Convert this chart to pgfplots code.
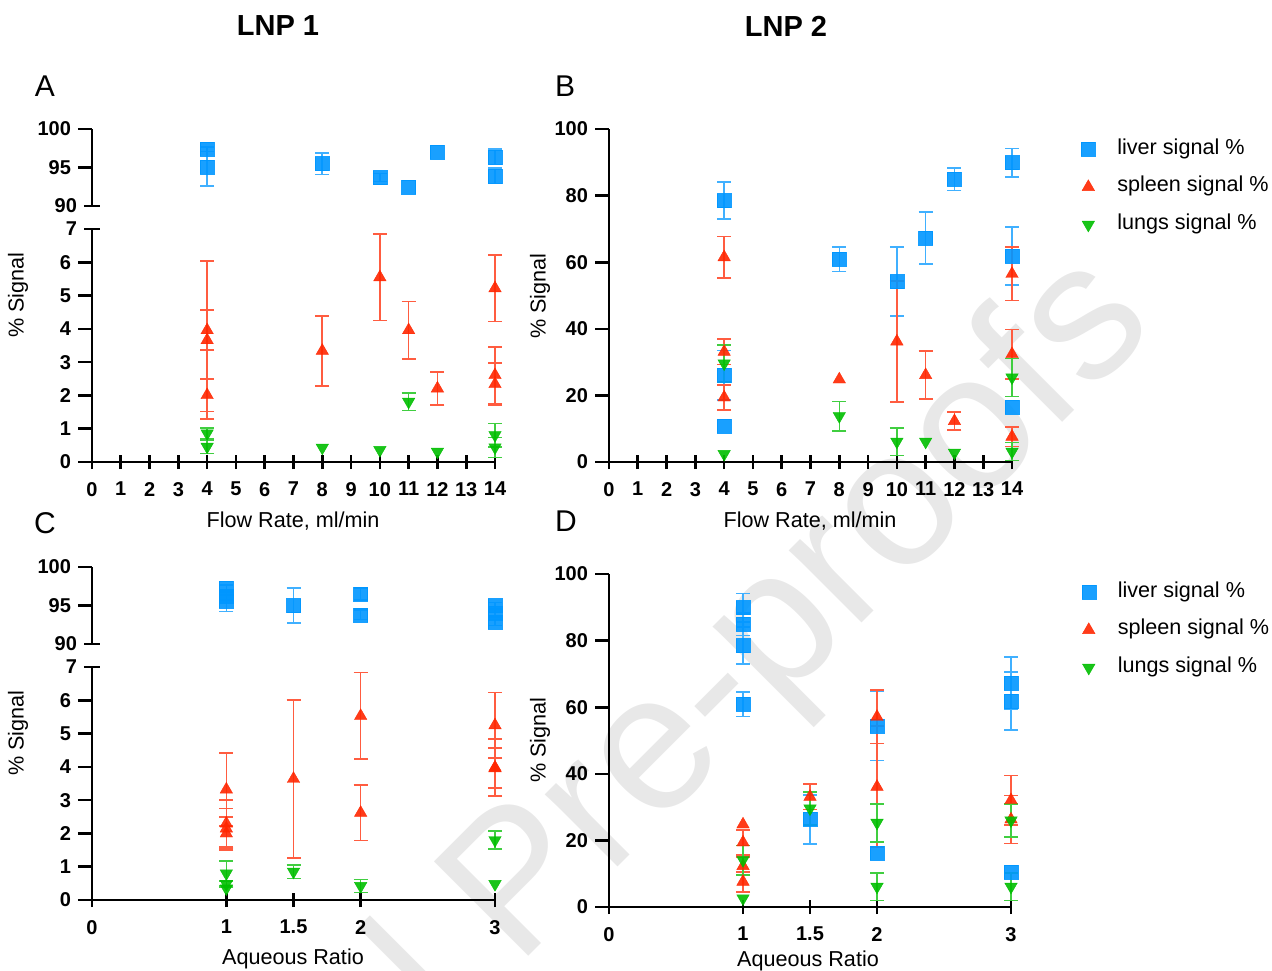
\documentclass[border=0pt]{standalone}
\usepackage{fontspec}
\setmainfont{Liberation Sans}
\usepackage{pgfplots}
\pgfplotsset{compat=1.18}
\definecolor{gpblue}{RGB}{0,150,255}
\definecolor{gpred}{RGB}{255,38,0}
\definecolor{gpgreen}{RGB}{0,190,0}

\pgfplotsset{
  gp/.style={scale only axis, clip=false, anchor=south west, width=201.5pt,
    axis y line=left, axis line style={-, line width=1.3pt},
    every outer y axis line/.append style={-},
    tick style={line width=1.3pt, black}, major tick length=7pt, tick align=outside,
    ticklabel style={font=\bfseries\fontsize{10}{12}\selectfont},
    xticklabel style={yshift=-3pt},
    /pgf/number format/assume math mode=true},
  gpx/.style={axis x line=bottom, x axis line style={-}},
  brk/.style={extra y ticks={#1}, extra y tick style={tick align=center, major tick length=8pt}},
  liver/.style={only marks, mark=square*, mark size=3.5pt, color=gpblue,
    mark options={fill=gpblue, draw=gpblue, line width=0.2pt, opacity=0.9}},
  spleen/.style={only marks, mark=triangle*, mark size=3.6pt, color=gpred,
    mark options={fill=gpred, draw=gpred, line width=0.2pt, opacity=0.9}},
  lungs/.style={only marks, mark=triangle*, mark size=3.6pt, color=gpgreen,
    mark options={rotate=180, fill=gpgreen, draw=gpgreen, line width=0.2pt, opacity=0.9}},
  ebar/.style={error bars/.cd, y dir=both, y explicit,
    error bar style={line width=0.8pt, #1!75},
    error mark options={rotate=90, #1!75, mark size=3.5pt, line width=0.8pt}},
  gplegend/.style 2 args={legend style={at={(#1,#2)}, anchor=west, draw=none, fill=none,
    font=\fontsize{10.8}{13}\selectfont, row sep=7.5pt, column sep=10pt, inner sep=0pt,
    nodes={inner sep=1pt, text height=0.72em, text depth=0.22em}},
    legend cell align=left,
    legend image code/.code={\draw[##1] plot coordinates {(0pt,0pt)};}},
}

\begin{document}
\begin{tikzpicture}
\path[use as bounding box] (0,0) rectangle (636pt,-485pt);

% watermark
\node[rotate=45, anchor=base east, text=black!9, font=\fontsize{97}{97}\selectfont] at (581.5pt,-161pt) {Journal Pre-proofs};

% ---- A, upper part
\begin{axis}[gp, at={(46pt,-103pt)}, height=38.5pt, xmin=0, xmax=14, ymin=90, ymax=100,
  axis x line=none, ytick={95,100}, brk=90]
\addplot[liver, ebar=gpblue] table[x=x, y=y, y error=e] {
x y e
4 97.4 0.3
4 95.1 2.5
8 95.5 1.4
10 93.7 0.5
14 96.4 1.0
14 93.9 1.0
};
\addplot[liver] table {
x y
11 92.5
12 97.05
};
\end{axis}

% ---- A, lower part
\begin{axis}[gp, gpx, at={(46pt,-231pt)}, height=116.5pt, xmin=0, xmax=14, ymin=0, ymax=7,
  xtick={0,...,14}, ytick={0,...,6}, brk=7]
\addplot[spleen, ebar=gpred] table[x=x, y=y, y error=e] {
x y e
4 3.66 2.37
4 3.96 0.60
4 2.01 0.49
8 3.34 1.05
10 5.55 1.30
11 3.96 0.86
12 2.21 0.50
14 5.22 1.00
14 2.61 0.85
14 2.34 0.63
};
\addplot[lungs, ebar=gpgreen] table[x=x, y=y, y error=e] {
x y e
4 0.86 0.17
4 0.46 0.20
11 1.81 0.26
14 0.81 0.35
14 0.44 0.30
};
\addplot[lungs] table {
x y
8 0.43
10 0.36
12 0.31
};
\end{axis}

% ---- B
\begin{axis}[gp, gpx, at={(304.5pt,-231pt)}, height=166.5pt, xmin=0, xmax=14, ymin=0, ymax=100,
  xtick={0,...,14}, ytick={0,20,...,100}, gplegend={1.171}{0.826}]
\addplot[liver, ebar=gpblue] table[x=x, y=y, y error=e] {
x y e
4 78.5 5.6
4 26.1 7.4
8 60.9 3.7
10 54.2 10.4
11 67.3 7.8
12 84.9 3.4
14 89.9 4.3
14 61.9 8.7
};
\addlegendentry{liver signal \%}
\addplot[spleen, ebar=gpred] table[x=x, y=y, y error=e] {
x y e
4 61.5 6.2
4 33.1 3.8
4 19.4 3.7
10 36.2 18.2
11 26.1 7.2
12 12.3 2.7
14 56.5 8.0
14 32.4 7.4
14 7.6 3.0
};
\addlegendentry{spleen signal \%}
\addplot[lungs, ebar=gpgreen] table[x=x, y=y, y error=e] {
x y e
4 29.6 5.5
8 13.8 4.4
10 6.1 4.1
14 25.4 5.7
14 3.1 2.7
};
\addlegendentry{lungs signal \%}
\addplot[liver, forget plot] table {
x y
4 10.8
14 16.4
};
\addplot[spleen, forget plot] table {
x y
8 24.8
};
\addplot[lungs, forget plot] table {
x y
4 2.4
11 6.1
12 2.8
};
\end{axis}

% ---- C, upper part
\begin{axis}[gp, at={(46pt,-322pt)}, height=38.5pt, xmin=0, xmax=3, ymin=90, ymax=100,
  axis x line=none, ytick={95,100}, brk=90]
\addplot[liver, ebar=gpblue] table[x=x, y=y, y error=e] {
x y e
1 97.3 0.4
1 96.2 0.5
1 95.6 1.4
1.5 95.0 2.3
2 96.5 0.8
2 93.8 0.6
3 95.0 0.4
3 94.0 0.5
3 92.8 0.4
};
\end{axis}

% ---- C, lower part
\begin{axis}[gp, gpx, at={(46pt,-450pt)}, height=116.5pt, xmin=0, xmax=3, ymin=0, ymax=7,
  xtick={0,1,1.5,2,3}, ytick={0,...,6}, brk=7]
\addplot[spleen, ebar=gpred] table[x=x, y=y, y error=e] {
x y e
1 3.32 1.10
1 2.30 0.70
1 2.15 0.60
1 2.00 0.50
1.5 3.64 2.37
2 5.53 1.30
2 2.62 0.83
3 5.25 0.98
3 3.98 0.86
3 3.96 0.60
};
\addplot[lungs, ebar=gpgreen] table[x=x, y=y, y error=e] {
x y e
1 0.80 0.37
1 0.48 0.10
1.5 0.85 0.20
2 0.42 0.20
3 1.80 0.27
};
\addplot[lungs] table {
x y
1 0.35
3 0.48
};
\end{axis}

% ---- D
\begin{axis}[gp, gpx, at={(304.5pt,-453.5pt)}, width=201pt, height=166.5pt, xmin=0, xmax=3, ymin=0, ymax=100,
  xtick={0,1,1.5,2,3}, ytick={0,20,...,100}, gplegend={1.175}{0.832}]
\addplot[liver, ebar=gpblue] table[x=x, y=y, y error=e] {
x y e
1 89.9 4.3
1 84.9 3.4
1 78.5 5.6
1 60.9 3.7
1.5 26.3 7.4
2 54.4 10.4
3 67.2 7.8
3 61.9 8.7
};
\addlegendentry{liver signal \%}
\addplot[spleen, ebar=gpred] table[x=x, y=y, y error=e] {
x y e
1 19.4 3.7
1 12.3 2.7
1 7.6 3.0
1.5 33.1 3.8
2 57.1 8.0
2 36.1 18.2
3 32.1 7.4
3 26.3 7.2
};
\addlegendentry{spleen signal \%}
\addplot[lungs, ebar=gpgreen] table[x=x, y=y, y error=e] {
x y e
1 14.1 4.4
1.5 29.6 5.0
2 25.3 5.7
2 6.1 4.1
3 26.0 5.0
3 6.1 4.2
};
\addlegendentry{lungs signal \%}
\addplot[liver, forget plot] table {
x y
2 16.3
3 10.4
};
\addplot[spleen, forget plot] table {
x y
1 24.8
};
\addplot[lungs, forget plot] table {
x y
1 2.6
};
\end{axis}

% ---- titles and labels
\node[font=\bfseries\fontsize{14.5}{16}\selectfont] at (139pt,-13pt) {LNP 1};
\node[font=\bfseries\fontsize{14.5}{16}\selectfont] at (393pt,-13pt) {LNP 2};
\node[font=\fontsize{15}{17}\selectfont] at (22.5pt,-43pt) {A};
\node[font=\fontsize{15}{17}\selectfont] at (282.5pt,-43pt) {B};
\node[font=\fontsize{15}{17}\selectfont] at (22.5pt,-261.5pt) {C};
\node[font=\fontsize{15}{17}\selectfont] at (283pt,-260.5pt) {D};
\node[rotate=90, font=\fontsize{10.8}{13}\selectfont] at (9pt,-147.5pt) {\% Signal};
\node[rotate=90, font=\fontsize{10.8}{13}\selectfont] at (270pt,-148pt) {\% Signal};
\node[rotate=90, font=\fontsize{10.8}{13}\selectfont] at (9pt,-366.5pt) {\% Signal};
\node[rotate=90, font=\fontsize{10.8}{13}\selectfont] at (270pt,-370pt) {\% Signal};
\node[font=\fontsize{10.8}{13}\selectfont] at (146.5pt,-260.5pt) {Flow Rate, ml/min};
\node[font=\fontsize{10.8}{13}\selectfont] at (405pt,-260.5pt) {Flow Rate, ml/min};
\node[font=\fontsize{10.8}{13}\selectfont] at (146.5pt,-479.5pt) {Aqueous Ratio};
\node[font=\fontsize{10.8}{13}\selectfont] at (404pt,-480.5pt) {Aqueous Ratio};
\end{tikzpicture}
\end{document}
